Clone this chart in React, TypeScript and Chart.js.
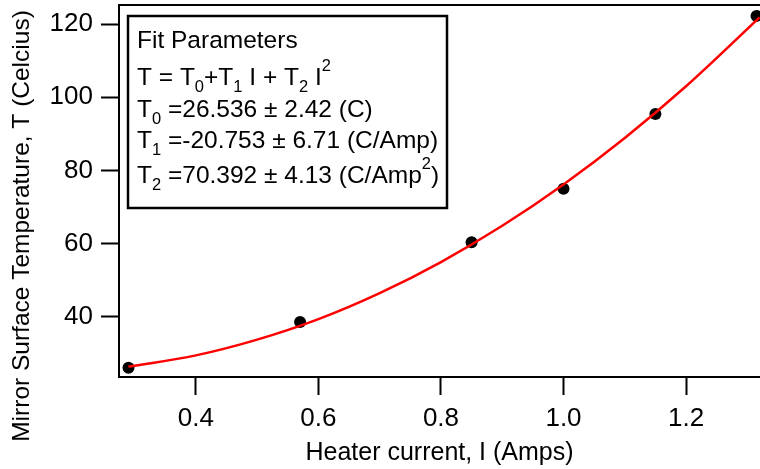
import React, { useEffect, useRef } from "react";
import { Chart, registerables } from "chart.js";

Chart.register(...registerables);

const FONT = '"Liberation Sans", Arial, sans-serif';

// Measured data points (Heater current I in Amps, mirror temperature T in Celsius)
const measuredI = [0.29, 0.57, 0.85, 1.0, 1.15, 1.315];
const measuredT = [26.1, 38.6, 60.4, 75.0, 95.4, 122.2];

// Fit curve
const fitI = [0.29, 0.4, 0.5, 0.6, 0.7, 0.8, 0.9, 1.0, 1.1, 1.2, 1.32];
const fitT = [26.4, 29.5, 33.8, 39.4, 46.5, 55.0, 64.9, 76.2, 88.9, 103.0, 121.8];

const xTickValues = [0.4, 0.6, 0.8, 1.0, 1.2];
const yTickValues = [40, 60, 80, 100, 120];
const xRange = [0.2745, 1.3207];
const yRange = [23.6, 125.2];

const xTitle = "Heater current, I (Amps)";
const yTitle = "Mirror Surface Temperature, T (Celcius)";

type Seg = { t: "n" | "sub" | "sup"; s: string };
const boxLines: Seg[][] = [
  [{ t: "n", s: "Fit Parameters" }],
  [
    { t: "n", s: "T = T" }, { t: "sub", s: "0" }, { t: "n", s: "+T" }, { t: "sub", s: "1" },
    { t: "n", s: " I + T" }, { t: "sub", s: "2" }, { t: "n", s: " I" }, { t: "sup", s: "2" },
  ],
  [{ t: "n", s: "T" }, { t: "sub", s: "0" }, { t: "n", s: " =26.536 ± 2.42 (C)" }],
  [{ t: "n", s: "T" }, { t: "sub", s: "1" }, { t: "n", s: " =-20.753 ± 6.71 (C/Amp)" }],
  [{ t: "n", s: "T" }, { t: "sub", s: "2" }, { t: "n", s: " =70.392 ± 4.13 (C/Amp" }, { t: "sup", s: "2" }, { t: "n", s: ")" }],
];
const boxBaselines = [32, 69, 101, 132, 167];

function drawRich(ctx: CanvasRenderingContext2D, x: number, y: number, segs: Seg[], measureOnly = false) {
  for (const s of segs) {
    const size = s.t === "n" ? 24.5 : 16.5;
    ctx.font = `${size}px ${FONT}`;
    const dy = s.t === "sub" ? 7 : s.t === "sup" ? -14 : 0;
    if (!measureOnly) ctx.fillText(s.s, x, y + dy);
    x += ctx.measureText(s.s).width;
  }
  return x;
}

const decorPlugin = {
  id: "decor",
  afterDraw(chart: any) {
    const ctx: CanvasRenderingContext2D = chart.ctx;
    const a = chart.chartArea;
    ctx.save();
    // top frame line
    ctx.strokeStyle = "#000";
    ctx.lineWidth = 2;
    ctx.beginPath();
    ctx.moveTo(a.left, a.top);
    ctx.lineTo(a.right, a.top);
    ctx.stroke();

    // text box
    const bx = a.left + 9;
    const by = a.top + 11;
    let maxEnd = 0;
    for (const line of boxLines) maxEnd = Math.max(maxEnd, drawRich(ctx, bx + 9, 0, line, true));
    const bw = Math.max(319, maxEnd - bx + 6);
    const bh = 192;
    ctx.fillStyle = "#fff";
    ctx.fillRect(bx, by, bw, bh);
    ctx.lineWidth = 2.5;
    ctx.strokeRect(bx, by, bw, bh);
    ctx.fillStyle = "#000";
    ctx.textAlign = "left";
    ctx.textBaseline = "alphabetic";
    boxLines.forEach((line, i) => drawRich(ctx, bx + 9, by + boxBaselines[i], line));

    // y axis title
    ctx.font = `24.5px ${FONT}`;
    ctx.textAlign = "center";
    ctx.textBaseline = "middle";
    ctx.translate(22, 226);
    ctx.rotate(-Math.PI / 2);
    ctx.fillText(yTitle, 0, 0);
    ctx.restore();
  },
};

export default function App() {
  const ref = useRef<HTMLCanvasElement | null>(null);
  useEffect(() => {
    if (!ref.current) return;
    const chart = new Chart(ref.current, {
      type: "scatter",
      data: {
        datasets: [
          {
            label: "fit",
            data: fitI.map((x, i) => ({ x, y: fitT[i] })),
            showLine: true,
            borderColor: "#ff0000",
            borderWidth: 2.5,
            pointRadius: 0,
            cubicInterpolationMode: "monotone",
          } as any,
          {
            label: "data",
            data: measuredI.map((x, i) => ({ x, y: measuredT[i] })),
            backgroundColor: "#000",
            borderColor: "#000",
            pointRadius: 6,
            borderWidth: 0,
          },
        ],
      },
      options: {
        responsive: false,
        animation: false,
        layout: { autoPadding: false, padding: { top: 5, left: 0, right: 0, bottom: 0 } },
        plugins: { legend: { display: false }, tooltip: { enabled: false } },
        scales: {
          x: {
            type: "linear",
            min: xRange[0],
            max: xRange[1],
            afterBuildTicks: (s: any) => { s.ticks = xTickValues.map((v) => ({ value: v })); },
            afterFit: (s: any) => { s.height = 92; s.paddingLeft = 0; s.paddingRight = 0; },
            grid: { display: true, drawOnChartArea: false, drawTicks: true, tickLength: 18, tickWidth: 2, tickColor: "#000" },
            border: { display: true, width: 2, color: "#000" },
            ticks: {
              color: "#000",
              font: { family: FONT, size: 26 },
              padding: 8,
              maxRotation: 0,
              callback: (v: any) => Number(v).toFixed(1),
            },
            title: { display: true, text: xTitle, color: "#000", font: { family: FONT, size: 25 }, padding: { top: 0, bottom: 1 } },
          },
          y: {
            type: "linear",
            min: yRange[0],
            max: yRange[1],
            afterBuildTicks: (s: any) => { s.ticks = yTickValues.map((v) => ({ value: v })); },
            afterFit: (s: any) => { s.width = 119; s.paddingTop = 0; s.paddingBottom = 0; },
            grid: { display: true, drawOnChartArea: false, drawTicks: true, tickLength: 18, tickWidth: 2, tickColor: "#000" },
            border: { display: true, width: 2, color: "#000" },
            ticks: {
              color: "#000",
              font: { family: FONT, size: 26 },
              padding: 8,
              callback: (v: any) => String(v),
            },
          },
        },
      },
      plugins: [decorPlugin],
    } as any);
    return () => chart.destroy();
  }, []);
  return (
    <div style={{ position: "fixed", left: 0, top: 0, width: 760, height: 469, background: "#fff" }}>
      <canvas ref={ref} width={760} height={469} style={{ display: "block" }} />
    </div>
  );
}
